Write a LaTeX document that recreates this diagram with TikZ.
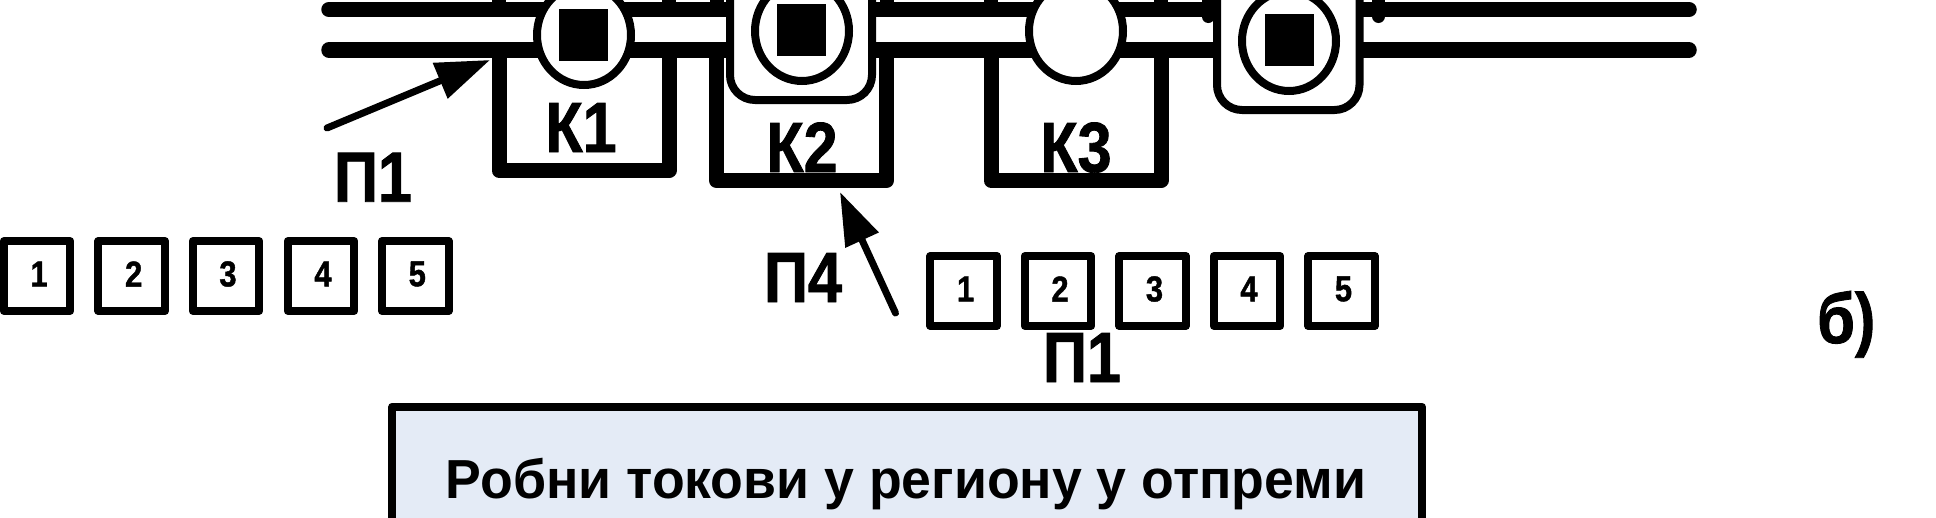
\documentclass[tikz,border=0pt]{standalone}
\usepackage{fontspec}
\setmainfont{Liberation Sans}[BoldFeatures={FakeStretch=0.975}]
\newfontfamily\condfont{Liberation Sans}[BoldFeatures={FakeStretch=0.86,FakeBold=1.2}]
\usetikzlibrary{arrows.meta}
\definecolor{panelblue}{HTML}{E4EBF6}
\tikzset{
  busline/.style={line width=15.5pt,line cap=round},
  stub/.style={line width=14pt},
  ubox/.style={line width=15pt,line join=round},
  cellbox/.style={draw,fill=white,line width=8pt,rounded corners=25pt},
  core/.style={fill=black},
  numbox/.style={draw,line width=8pt,line join=round,minimum width=66.5pt,minimum height=70pt,inner sep=0pt},
  numtext/.style={font=\condfont\bfseries\fontsize{36}{36}\selectfont,inner sep=0pt},
  biglabel/.style={font=\condfont\bfseries\fontsize{71}{71}\selectfont,inner sep=0pt},
  pointer/.style={line width=7pt,line cap=round},
}
\begin{document}
\begin{tikzpicture}[x=1pt,y=-1pt]
\clip (0,0) rectangle (1936,517);
% named points
\coordinate (busAL) at (329,9.5);   \coordinate (busAR) at (1689,9.5);
\coordinate (busBL) at (329,50);    \coordinate (busBR) at (1689,50);
% top stubs
\foreach \x in {499,669,716.5,886.5,991,1161}{\draw[stub] (\x,-3) -- (\x,9.5);}
\draw[line width=13pt,line cap=round] (1208,-5) -- (1208,16.5);
\draw[line width=13pt,line cap=round] (1378.5,-5) -- (1378.5,16.5);
% buses
\draw[busline] (busAL) -- (busAR);
\draw[busline] (busBL) -- (busBR);
% K boxes
\draw[ubox] (499,50) -- (499,170.5) -- (669,170.5) -- (669,50);
\draw[ubox] (716.5,50) -- (716.5,180.5) -- (886.5,180.5) -- (886.5,50);
\draw[ubox] (991,50) -- (991,180.5) -- (1161,180.5) -- (1161,50);
% rounded cells
\draw[cellbox] (730,-40) rectangle (872,100);
\draw[cellbox] (1217,-40) rectangle (1359.5,110);
% discs
\draw[fill=white,line width=8pt] (584,35) ellipse [x radius=47,y radius=50];
\draw[fill=white,line width=8pt] (802,31) ellipse [x radius=47,y radius=50];
\draw[fill=white,line width=8pt] (1076,31) ellipse [x radius=47,y radius=50];
\draw[fill=white,line width=8pt] (1289,41) ellipse [x radius=47,y radius=50];
% cores
\fill[core] (559,9) rectangle (608,61);
\fill[core] (777,4) rectangle (826,56);
\fill[core] (1265,14) rectangle (1314,66);
% labels K
\node[biglabel,anchor=base] (k1) at (581,152) {К1};
\node[biglabel,anchor=base] (k2) at (802,172) {К2};
\node[biglabel,anchor=base] (k3) at (1076,172) {К3};
% pointers
\coordinate (p1tail) at (327,128); \coordinate (p1tip) at (490,60);
\coordinate (p4tail) at (895.5,313); \coordinate (p4tip) at (840,192);
\draw[pointer,-{Triangle[length=54pt,width=37pt]}] (p1tail) -- (p1tip);
\draw[pointer,-{Triangle[length=53pt,width=35pt]}] (p4tail) -- (p4tip);
% big labels P
\node[biglabel,anchor=base] (p1a) at (373,201.7) {П1};
\node[biglabel,anchor=base] (p4) at (803,302) {П4};
\node[biglabel,anchor=base] (p1b) at (1082,382) {П1};
\node[biglabel,anchor=base west] (b) at (1817,343) {б)};
% number rows
\foreach \n/\x in {1/37,2/131.7,3/226,4/321,5/415.3}{
  \node[numbox] (r\n) at (\x,276) {};
  \node[numtext] (rt\n) at (\x+2,274) {\n};
}
\foreach \n/\x in {1/963.6,2/1058,3/1152.5,4/1247,5/1341.5}{
  \node[numbox] (s\n) at (\x,291) {};
  \node[numtext] (st\n) at (\x+2,289) {\n};
}
% panel
\draw[line width=8pt,line join=round,fill=panelblue] (392.3,406.7) rectangle (1422,560);
\node[font=\bfseries\fontsize{55}{55}\selectfont,inner sep=0pt,anchor=base] (title) at (906,498) {Робни токови у региону у отпреми};
\end{tikzpicture}
\end{document}
